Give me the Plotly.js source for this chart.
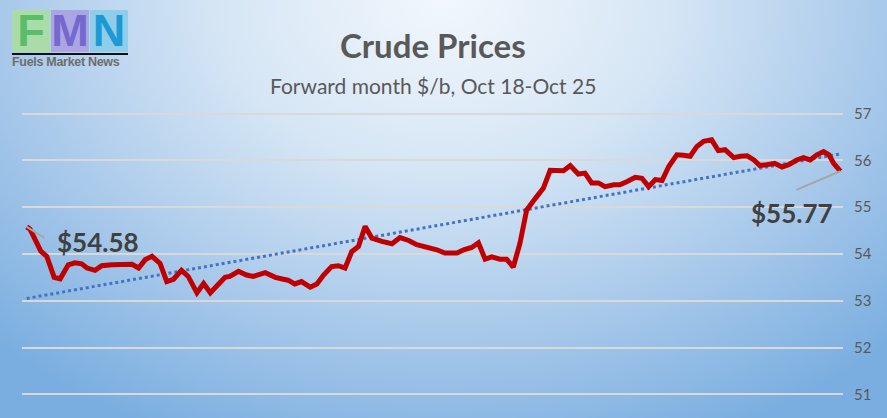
<!DOCTYPE html>
<html><head><meta charset="utf-8">
<script src="https://cdn.plot.ly/plotly-3.0.1.min.js"></script>
<style>
html,body{margin:0;padding:0;}
#wrap{position:relative;width:887px;height:418px;overflow:hidden;
background:radial-gradient(ellipse 72% 115% at 50% 0%, #f2f7fd 0%, #d6e6f5 35%, #a7c8ea 70%, #7aaee0 100%);}
#chart{position:absolute;left:0;top:0;width:887px;height:418px;}
#logo{position:absolute;left:12px;top:10px;width:116px;height:60px;}
.blk{position:absolute;top:0;height:42px;width:38px;font-family:"Liberation Sans",Arial,sans-serif;font-weight:bold;font-size:45px;line-height:42px;text-align:center;}
#lt{position:absolute;top:43px;left:0;width:116px;height:15px;border-top:2px solid #111;font-family:"Liberation Sans",Arial,sans-serif;font-weight:bold;font-size:12.5px;line-height:15px;color:#6d6d6d;letter-spacing:-0.3px;white-space:nowrap;}
</style></head>
<body>
<div id="wrap">
<div id="chart"></div>
<div id="logo">
 <div class="blk" style="left:0;background:#a9dca9;color:#5bbd68;">F</div>
 <div class="blk" style="left:39px;background:#aaa6e2;color:#7568cf;">M</div>
 <div class="blk" style="left:78px;background:#8fcdea;color:#1d9ad6;">N</div>
 <div id="lt">Fuels Market News</div>
</div>
</div>
<script>
// time positions (trading-interval index) and forward-month crude price ($/b)
const t = [0,0.5,2.1,3.0,4.1,5.0,6.2,7.2,8.2,9.0,10.2,11.2,12.7,14.2,15.7,16.7,17.7,18.7,19.9,20.9,
21.9,23.1,24.1,25.4,26.4,27.4,28.6,29.6,30.3,31.6,32.8,33.8,35.6,37.1,38.3,39.0,40.0,41.0,42.3,43.3,
44.3,45.5,46.5,47.5,48.5,49.5,50.5,51.5,53.0,54.5,55.7,57.0,58.2,59.4,60.2,61.2,62.4,64.2,65.2,66.4,
67.4,68.4,69.4,70.6,71.6,72.6,73.6,74.6,75.9,77.1,78.1,79.4,80.1,81.1,82.3,83.3,84.3,85.3,86.3,87.6,
88.5,89.6,90.8,91.8,92.8,93.8,94.8,95.8,97.0,98.0,99.0,100.0,101.0,102.2,103.2,104.2,105.5,106.5,107.5,108.5,
109.4,110.4,111.6,112.7,113.7,114.9,115.9,116.9,117.9,118.9,119.7,120.4,121.4];
const price = [54.58,54.53,54.06,53.95,53.50,53.47,53.77,53.81,53.79,53.70,53.65,53.75,53.77,53.77,53.78,53.70,53.88,53.95,53.80,53.41,
53.46,53.65,53.52,53.17,53.37,53.17,53.37,53.50,53.52,53.63,53.55,53.52,53.60,53.50,53.46,53.44,53.36,53.41,53.29,53.36,
53.55,53.73,53.75,53.70,54.05,54.16,54.59,54.34,54.27,54.22,54.35,54.29,54.20,54.16,54.11,54.09,54.02,54.02,54.09,54.14,
54.24,53.89,53.94,53.89,53.89,53.72,54.23,54.94,55.19,55.41,55.79,55.79,55.78,55.89,55.71,55.73,55.52,55.52,55.44,55.48,
55.48,55.55,55.64,55.62,55.44,55.59,55.57,55.87,56.12,56.11,56.09,56.30,56.41,56.44,56.21,56.23,56.06,56.09,56.10,56.01,
55.89,55.91,55.94,55.86,55.91,56.01,56.06,56.01,56.12,56.19,56.12,55.94,55.77];
// linear trendline endpoints (as drawn)
const trendT = [0, 121.4];
const trendY = [53.05, 56.14];
const yTicks = [51,52,53,54,55,56,57];
const titleText = "Crude Prices";
const subtitleText = "Forward month $/b, Oct 18-Oct 25";
const firstLabel = "$54.58";
const lastLabel = "$55.77";

const n = t.length;
const data = [
 {x: trendT, y: trendY, mode:'lines', line:{color:'#4472c4', width:3, dash:'dot'}, hoverinfo:'skip'},
 {x: t, y: price, mode:'lines', line:{color:'#c00000', width:5}, hoverinfo:'skip'}
];
const font = "Lato, 'Open Sans', sans-serif";
const layout = {
 width:887, height:418,
 margin:{l:22, r:44, t:109, b:19},
 paper_bgcolor:'rgba(0,0,0,0)', plot_bgcolor:'rgba(0,0,0,0)',
 showlegend:false,
 xaxis:{range:[-0.7,121.8], showgrid:false, zeroline:false, showticklabels:false, showline:false, fixedrange:true},
 yaxis:{range:[50.9,57.1], side:'right', tickvals:yTicks, ticktext:yTicks.map(String), showgrid:true,
   gridcolor:'#d9d9d9', gridwidth:2, zeroline:false, showline:false, ticks:'', ticklabelstandoff:10,
   tickfont:{family:font, size:15, color:'#595959'}, fixedrange:true},
 annotations:[
  {xref:'paper', yref:'paper', x:0.5, y:1, yshift:64, text:'<b>'+titleText+'</b>', showarrow:false,
   font:{family:font, size:33, color:'#595959'}, xanchor:'center', yanchor:'middle'},
  {xref:'paper', yref:'paper', x:0.5, y:1, yshift:24, text:subtitleText, showarrow:false,
   font:{family:font, size:21, color:'#595959'}, xanchor:'center', yanchor:'middle'},
  {x:t[0], y:price[0], text:' ', showarrow:true, arrowhead:0, arrowwidth:2, arrowcolor:'#a6a6a6', ax:21, ay:13, standoff:0},
  {x:t[0], y:price[0], text:'<b>'+firstLabel+'</b>', showarrow:false, xshift:71, yshift:-15,
   font:{family:font, size:26, color:'#404040'}},
  {x:t[n-1], y:price[n-1], text:' ', showarrow:true, arrowhead:0, arrowwidth:2, arrowcolor:'#a6a6a6', ax:-47, ay:20, standoff:0},
  {x:t[n-1], y:price[n-1], text:'<b>'+lastLabel+'</b>', showarrow:false, xshift:-48, yshift:-42,
   font:{family:font, size:26, color:'#404040'}}
 ]
};
Plotly.newPlot('chart', data, layout, {displayModeBar:false, staticPlot:true});
</script>
</body></html>
